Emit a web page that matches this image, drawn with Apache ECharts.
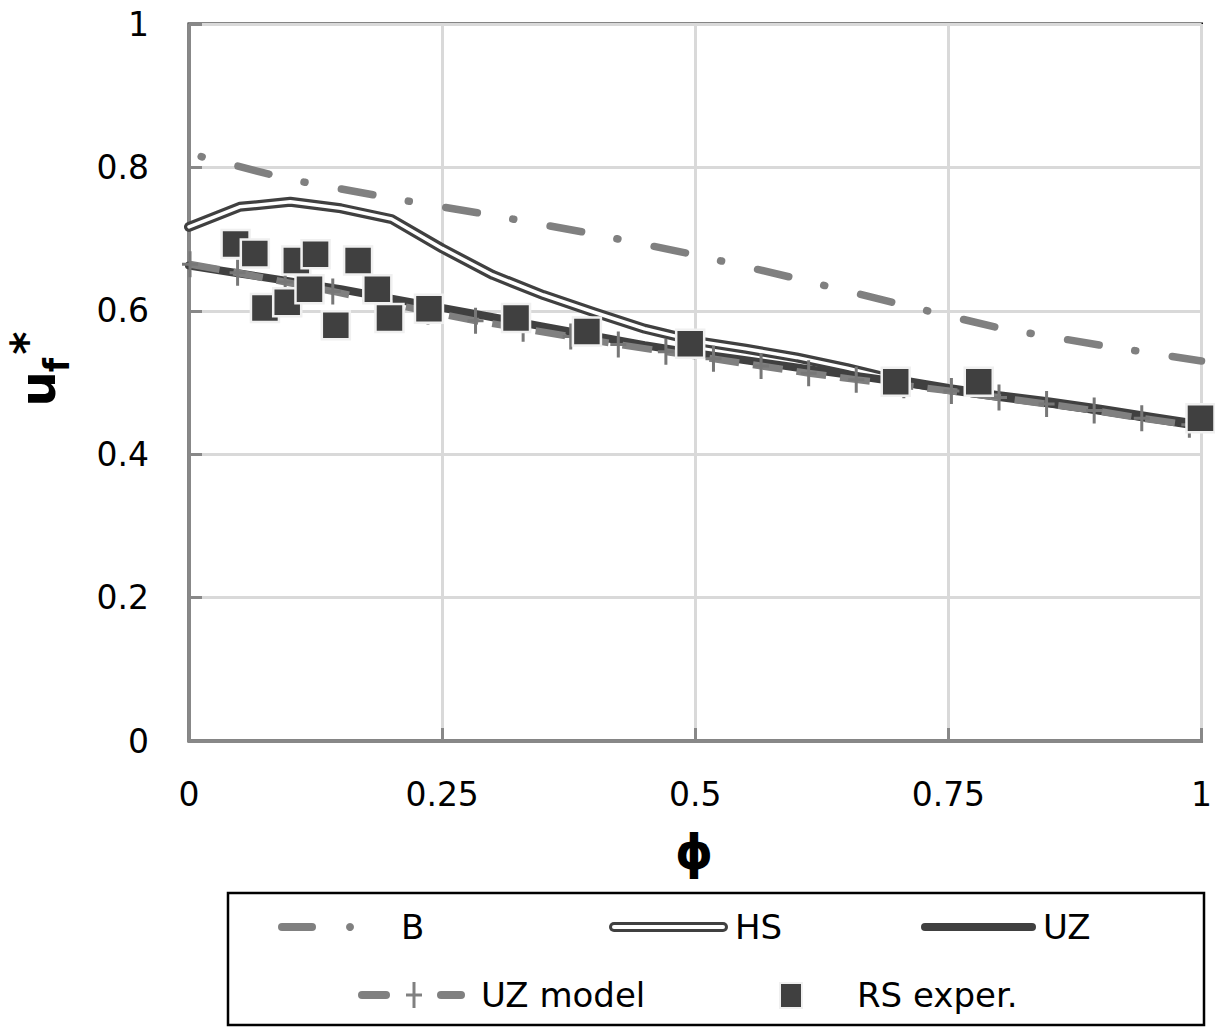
<!DOCTYPE html>
<html>
<head>
<meta charset="utf-8">
<script src="https://cdn.jsdelivr.net/npm/echarts@6/dist/echarts.min.js"></script>
<style>
  html, body { margin: 0; padding: 0; background: #fff; }
  #main { width: 1215px; height: 1027px; }
</style>
</head>
<body>
<div id="main"></div>
<script>
// Axis tick labels
const xTickLabels = ['0', '0.25', '0.5', '0.75', '1'];
const yTickLabels = ['0', '0.2', '0.4', '0.6', '0.8', '1'];

// B correlation
const phiB = [0.012, 0.1, 0.2, 0.3, 0.4, 0.5, 0.6, 0.7, 0.8, 0.9, 1.0];
const uB   = [0.815, 0.783, 0.757, 0.733, 0.707, 0.678, 0.645, 0.610, 0.576, 0.552, 0.530];

// HS and UZ curves (shared phi grid)
const phiCurve = [0, 0.05, 0.1, 0.15, 0.2, 0.25, 0.3, 0.35, 0.4, 0.45, 0.5,
                  0.55, 0.6, 0.65, 0.7, 0.75, 0.8, 0.85, 0.9, 0.95, 1.0];
const uHS = [0.717, 0.745, 0.752, 0.743, 0.728, 0.687, 0.650, 0.622, 0.598, 0.575, 0.558,
             0.547, 0.535, 0.520, 0.503, 0.491, 0.481, 0.472, 0.462, 0.451, 0.440];
const uUZ = [0.663, 0.652, 0.641, 0.630, 0.617, 0.604, 0.591, 0.578, 0.565, 0.552, 0.541,
             0.531, 0.521, 0.511, 0.501, 0.491, 0.481, 0.471, 0.461, 0.450, 0.440];

// UZ model
const phiUZM = [0.001, 0.048, 0.095, 0.142, 0.189, 0.236, 0.283, 0.330, 0.377, 0.424, 0.471,
                0.518, 0.565, 0.612, 0.659, 0.706, 0.753, 0.800, 0.847, 0.894, 0.941, 0.988];
const uUZM   = [0.665, 0.653, 0.640, 0.627, 0.613, 0.599, 0.586, 0.575, 0.564, 0.553, 0.543,
                0.533, 0.523, 0.513, 0.504, 0.496, 0.488, 0.479, 0.470, 0.461, 0.450, 0.441];

// RS experiments
const phiRS = [0.046, 0.065, 0.075, 0.097, 0.106, 0.125, 0.119, 0.145, 0.167, 0.186, 0.198,
               0.237, 0.323, 0.393, 0.495, 0.698, 0.780, 0.999];
const uRS   = [0.693, 0.680, 0.604, 0.612, 0.670, 0.679, 0.630, 0.580, 0.670, 0.630, 0.590,
               0.603, 0.590, 0.571, 0.554, 0.501, 0.501, 0.450];

const pairs = (xs, ys) => xs.map((x, i) => [x, ys[i]]);

const FONT = '"DejaVu Sans", sans-serif';
const GRAY = '#808080';
const DARK = '#404040';
const AXIS = '#888888';

const chart = echarts.init(document.getElementById('main'), null, { renderer: 'svg' });

const plusPath = 'path://M6.5,0H9.5V26H6.5Z M0,11.5H16V14.5H0Z';

const legendY1 = 927, legendY2 = 995;
const txt = (t, x, y, size) => ({
  type: 'text', x: x, y: y, z: 20,
  style: { text: t, font: size + 'px ' + FONT, fill: '#000',
           align: 'left', verticalAlign: 'middle', textAlign: 'left', textVerticalAlign: 'middle' }
});

chart.setOption({
  animation: false,
  backgroundColor: '#fff',
  grid: {
    left: 189, top: 24, right: 13, bottom: 286,
    show: true, borderColor: '#0d0d0d', borderWidth: 3, backgroundColor: 'transparent'
  },
  xAxis: {
    type: 'value', min: 0, max: 1, interval: 0.25,
    axisLine: { show: true, onZero: false, lineStyle: { color: AXIS, width: 3 } },
    axisTick: { show: true, inside: true, length: 13, lineStyle: { color: AXIS, width: 3 } },
    splitLine: { show: true, lineStyle: { color: '#d9d9d9', width: 3 } },
    axisLabel: {
      margin: 37, fontSize: 33, fontFamily: FONT, color: '#000',
      formatter: (v) => xTickLabels[Math.round(v / 0.25)]
    }
  },
  yAxis: {
    type: 'value', min: 0, max: 1, interval: 0.2,
    axisLine: { show: true, onZero: false, lineStyle: { color: AXIS, width: 3 } },
    axisTick: { show: true, inside: true, length: 13, lineStyle: { color: AXIS, width: 3 } },
    splitLine: { show: true, lineStyle: { color: '#d9d9d9', width: 3 } },
    axisLabel: {
      margin: 40, fontSize: 33, fontFamily: FONT, color: '#000',
      formatter: (v) => yTickLabels[Math.round(v / 0.2)]
    }
  },
  series: [
    {
      name: 'B', type: 'line', data: pairs(phiB, uB), showSymbol: false, clip: false, z: 2,
      lineStyle: { color: GRAY, width: 7.5, type: [1, 37, 32, 36], cap: 'round' }
    },
    {
      name: 'HS', type: 'line', data: pairs(phiCurve, uHS), showSymbol: false, clip: false, z: 3,
      lineStyle: { color: DARK, width: 10, cap: 'round', join: 'round' }
    },
    {
      name: 'HS inner', type: 'line', data: pairs(phiCurve, uHS), showSymbol: false, clip: false, z: 3,
      lineStyle: { color: '#ffffff', width: 3.5, cap: 'round', join: 'round' }
    },
    {
      name: 'UZ', type: 'line', data: pairs(phiCurve, uUZ), showSymbol: false, clip: false, z: 4,
      lineStyle: { color: DARK, width: 8, cap: 'round', join: 'round' }
    },
    {
      name: 'UZ model', type: 'line', data: pairs(phiUZM, uUZM), clip: false, z: 5,
      symbol: plusPath, symbolSize: [16, 26], showSymbol: true,
      itemStyle: { color: '#777777' },
      lineStyle: { color: GRAY, width: 7, type: [30, 14] }
    },
    {
      name: 'RS exper.', type: 'scatter', data: pairs(phiRS, uRS), clip: false, z: 6,
      symbol: 'rect', symbolSize: 28,
      itemStyle: { color: DARK, borderColor: '#f0f0f0', borderWidth: 2.5, opacity: 1 }
    }
  ],
  graphic: [
    // axis titles
    { type: 'text', x: 694, y: 852, z: 20,
      style: { text: 'ϕ', font: 'bold 48px ' + FONT, fill: '#000',
               align: 'center', verticalAlign: 'middle', textAlign: 'center', textVerticalAlign: 'middle' } },
    { type: 'text', x: 38, y: 389, rotation: Math.PI / 2, z: 20,
      style: { text: 'u', font: 'bold 50px ' + FONT, fill: '#000',
               align: 'center', verticalAlign: 'middle', textAlign: 'center', textVerticalAlign: 'middle' } },
    { type: 'text', x: 56, y: 365, rotation: Math.PI / 2, z: 20,
      style: { text: 'f', font: 'bold 36px "DejaVu Sans Condensed", ' + FONT, fill: '#000',
               align: 'center', verticalAlign: 'middle', textAlign: 'center', textVerticalAlign: 'middle' } },
    { type: 'text', x: 26, y: 343, rotation: Math.PI / 2, z: 20,
      style: { text: '*', font: 'bold 44px ' + FONT, fill: '#000',
               align: 'center', verticalAlign: 'middle', textAlign: 'center', textVerticalAlign: 'middle' } },

    // legend frame
    { type: 'rect', z: 10, shape: { x: 228, y: 893, width: 976, height: 132 },
      style: { fill: '#fff', stroke: '#000', lineWidth: 2.5 } },

    // B
    { type: 'line', z: 20, shape: { x1: 282, y1: legendY1, x2: 312, y2: legendY1 },
      style: { stroke: GRAY, lineWidth: 8, lineCap: 'round' } },
    { type: 'circle', z: 20, shape: { cx: 350, cy: legendY1, r: 4 }, style: { fill: GRAY } },
    txt('B', 401, legendY1, 34),

    // HS
    { type: 'line', z: 20, shape: { x1: 614, y1: legendY1, x2: 723, y2: legendY1 },
      style: { stroke: DARK, lineWidth: 10, lineCap: 'round' } },
    { type: 'line', z: 21, shape: { x1: 614, y1: legendY1, x2: 723, y2: legendY1 },
      style: { stroke: '#fff', lineWidth: 4, lineCap: 'round' } },
    txt('HS', 735, legendY1, 34),

    // UZ
    { type: 'line', z: 20, shape: { x1: 925, y1: legendY1, x2: 1032, y2: legendY1 },
      style: { stroke: DARK, lineWidth: 8, lineCap: 'round' } },
    txt('UZ', 1043, legendY1, 34),

    // UZ model
    { type: 'line', z: 20, shape: { x1: 362, y1: legendY2, x2: 386, y2: legendY2 },
      style: { stroke: GRAY, lineWidth: 8, lineCap: 'round' } },
    { type: 'line', z: 20, shape: { x1: 441, y1: legendY2, x2: 461, y2: legendY2 },
      style: { stroke: GRAY, lineWidth: 8, lineCap: 'round' } },
    { type: 'rect', z: 20, shape: { x: 412.5, y: legendY2 - 13, width: 3, height: 26 }, style: { fill: GRAY } },
    { type: 'rect', z: 20, shape: { x: 406, y: legendY2 - 1.5, width: 16, height: 3 }, style: { fill: GRAY } },
    txt('UZ model', 481, legendY2, 34),

    // RS exper.
    { type: 'rect', z: 20, shape: { x: 780, y: legendY2 - 12, width: 22, height: 25 },
      style: { fill: DARK, stroke: '#f0f0f0', lineWidth: 2 } },
    txt('RS exper.', 857, legendY2, 34)
  ]
});
</script>
</body>
</html>
